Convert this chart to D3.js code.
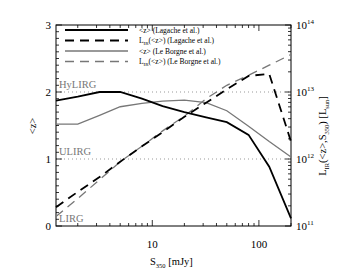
<!DOCTYPE html>
<html><head><meta charset="utf-8">
<script src="https://cdn.jsdelivr.net/npm/d3@7"></script>
<style>body{margin:0;background:#fff}svg{display:block}text{font-family:"Liberation Serif","DejaVu Serif",serif}</style>
</head><body>
<svg id="c" width="354" height="275"></svg>
<script>
const S = [1.25, 2, 3.2, 5, 8, 12.5, 20, 32, 50, 80, 125, 200];
const zLagache = [1.87, 1.93, 2.0, 2.0, 1.90, 1.79, 1.70, 1.62, 1.55, 1.36, 0.885, 0.115];
const zLeBorgne = [1.52, 1.52, 1.65, 1.78, 1.83, 1.865, 1.88, 1.84, 1.72, 1.49, 1.26, 1.03];
const logLLagache = [11.28, 11.51, 11.73, 11.96, 12.19, 12.40, 12.63, 12.84, 13.04, 13.24, 13.27, 12.26];
const logLLeBorgne = [11.14, 11.41, 11.69, 11.96, 12.19, 12.42, 12.64, 12.90, 13.10, 13.25, 13.40, 13.56];
const zTicks = [0, 1, 2, 3];
const xTickLabels = [10, 100];
const lTickExp = [11, 12, 13, 14];
const classes = [{name:"HyLIRG", z:2}, {name:"ULIRG", z:1}, {name:"LIRG", z:0}];
const legendItems = [
  {pre:"<z> (Lagache et al.)", ir:false, color:"#000", dash:null, w:1.8},
  {pre:"L", ir:true, post:"(<z>) (Lagache et al.)", color:"#000", dash:"9,6", w:1.8},
  {pre:"<z> (Le Borgne et al.)", ir:false, color:"#777", dash:null, w:1.3},
  {pre:"L", ir:true, post:"(<z>) (Le Borgne et al.)", color:"#777", dash:"9,6", w:1.3}
];

const svg = d3.select("#c");
const L = 56, R = 291, T = 25, B = 226;
const x = d3.scaleLog().domain([1.25, 200]).range([L, R]);
const yz = d3.scaleLinear().domain([0, 3]).range([B, T]);
const yl = d3.scaleLog().domain([1e11, 1e14]).range([B, T]);

// dotted reference lines
[1, 2].forEach(v => {
  svg.append("line").attr("x1", L).attr("x2", R).attr("y1", yz(v)).attr("y2", yz(v))
    .attr("stroke", "#999").attr("stroke-width", 1).attr("stroke-dasharray", "1,3");
});
classes.forEach(c => {
  svg.append("text").attr("x", L + 3).attr("y", yz(c.z) - 4).attr("font-size", 10.5)
    .attr("fill", "#777").text(c.name);
});

// ticks
const g = svg.append("g").attr("stroke", "#000").attr("stroke-width", 0.8);
const xMinor = [];
[1, 10, 100].forEach(d => { for (let k = 1; k <= 9; k++) { const v = k * d; if (v >= 1.25 && v <= 200) xMinor.push(v); } });
xMinor.forEach(v => {
  const major = xTickLabels.includes(v);
  const len = major ? 6 : 3;
  g.append("line").attr("x1", x(v)).attr("x2", x(v)).attr("y1", B).attr("y2", B - len);
  g.append("line").attr("x1", x(v)).attr("x2", x(v)).attr("y1", T).attr("y2", T + len);
});
d3.range(0, 3.001, 0.1).forEach(v => {
  const major = Math.abs(v - Math.round(v)) < 1e-6;
  g.append("line").attr("x1", L).attr("x2", L + (major ? 6 : 3)).attr("y1", yz(v)).attr("y2", yz(v));
});
[11, 12, 13].forEach(e => {
  for (let k = 1; k <= 9; k++) {
    const v = k * Math.pow(10, e);
    g.append("line").attr("x1", R).attr("x2", R - (k === 1 ? 6 : 3)).attr("y1", yl(v)).attr("y2", yl(v));
  }
});
g.append("line").attr("x1", R).attr("x2", R - 6).attr("y1", yl(1e14)).attr("y2", yl(1e14));

// frame
svg.append("rect").attr("x", L).attr("y", T).attr("width", R - L).attr("height", B - T)
  .attr("fill", "none").attr("stroke", "#000").attr("stroke-width", 1);

// curves
const lineZ = vals => d3.line().x((d, i) => x(S[i])).y(d => yz(d))(vals);
const lineL = vals => d3.line().x((d, i) => x(S[i])).y(d => yl(Math.pow(10, d)))(vals);
svg.append("path").attr("d", lineZ(zLeBorgne)).attr("fill", "none").attr("stroke", "#777").attr("stroke-width", 1.3);
svg.append("path").attr("d", lineL(logLLeBorgne)).attr("fill", "none").attr("stroke", "#777").attr("stroke-width", 1.3).attr("stroke-dasharray", "9,6");
svg.append("path").attr("d", lineZ(zLagache)).attr("fill", "none").attr("stroke", "#000").attr("stroke-width", 1.8);
svg.append("path").attr("d", lineL(logLLagache)).attr("fill", "none").attr("stroke", "#000").attr("stroke-width", 1.8).attr("stroke-dasharray", "9,6");

// tick labels
zTicks.forEach(v => {
  svg.append("text").attr("x", L - 5).attr("y", yz(v) + 4).attr("text-anchor", "end").attr("font-size", 11).text(v);
});
xTickLabels.forEach(v => {
  svg.append("text").attr("x", x(v)).attr("y", 248).attr("text-anchor", "middle").attr("font-size", 11).text(v);
});
lTickExp.forEach(e => {
  const t = svg.append("text").attr("x", R + 5).attr("y", yl(Math.pow(10, e)) + 4).attr("font-size", 11);
  t.append("tspan").text("10");
  t.append("tspan").attr("dy", -5).attr("font-size", 7).text(e);
});

// axis titles
const xt = svg.append("text").attr("x", 150).attr("y", 265).attr("font-size", 10.5);
xt.append("tspan").text("S");
xt.append("tspan").attr("dy", 3).attr("font-size", 6.5).text("350");
xt.append("tspan").attr("dy", -3).text(" [mJy]");

svg.append("text").attr("transform", "translate(36,126) rotate(-90)").attr("text-anchor", "middle")
  .attr("font-size", 10.5).text("<z>");

const rt = svg.append("text").attr("transform", "translate(326,136) rotate(-90)").attr("text-anchor", "middle").attr("font-size", 10.5);
rt.append("tspan").text("L");
rt.append("tspan").attr("dy", 3).attr("font-size", 6.5).text("IR");
rt.append("tspan").attr("dy", -3).text("(<z>,S");
rt.append("tspan").attr("dy", 3).attr("font-size", 6.5).text("350");
rt.append("tspan").attr("dy", -3).text(") [L");
rt.append("tspan").attr("dy", 3).attr("font-size", 6.5).text("sun");
rt.append("tspan").attr("dy", -3).text("]");

// legend
legendItems.forEach((it, i) => {
  const yy = 30 + i * 10.5;
  svg.append("line").attr("x1", 65).attr("x2", 128).attr("y1", yy).attr("y2", yy)
    .attr("stroke", it.color).attr("stroke-width", it.w).attr("stroke-dasharray", it.dash);
  const t = svg.append("text").attr("x", 139).attr("y", yy + 2.5).attr("font-size", 7.5);
  t.append("tspan").text(it.pre);
  if (it.ir) {
    t.append("tspan").attr("dy", 2).attr("font-size", 5).text("IR");
    t.append("tspan").attr("dy", -2).text(it.post);
  }
});
</script>
</body></html>
